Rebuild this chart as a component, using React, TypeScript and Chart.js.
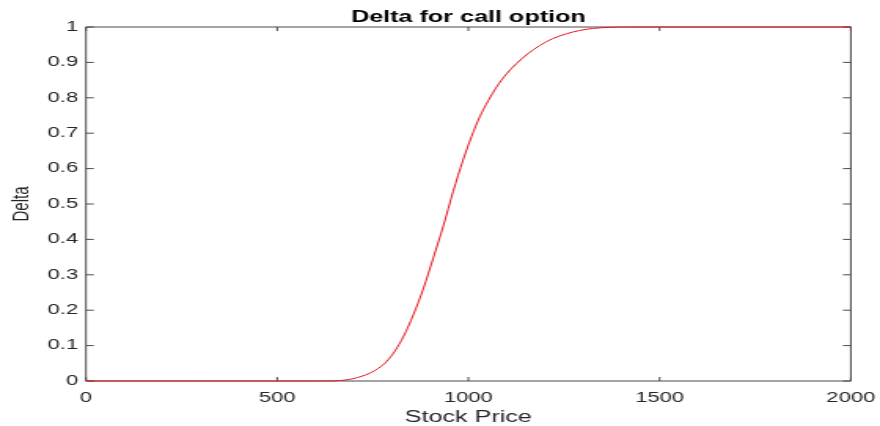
import React, { useEffect, useRef } from "react";
import { Chart, registerables } from "chart.js";

Chart.register(...registerables);

// ---- data ----
const prices = [0, 300, 600, 650, 680, 700, 720, 742, 765, 786, 808, 830, 856, 882, 908, 935, 960, 986, 1008, 1030, 1052, 1074, 1100, 1126, 1155, 1187, 1220, 1257, 1290, 1326, 1370, 1420, 1600, 2000];
const deltas = [0, 0, 0, 0.0005, 0.003, 0.007, 0.013, 0.022, 0.036, 0.055, 0.085, 0.125, 0.187, 0.26, 0.347, 0.44, 0.535, 0.624, 0.69, 0.747, 0.792, 0.831, 0.868, 0.897, 0.924, 0.948, 0.967, 0.981, 0.99, 0.996, 0.999, 1, 1, 1];
const titleText = "Delta for call option";
const xTitle = "Stock Price";
const yTitle = "Delta";
const xMin = 0, xMax = 2000, xStep = 500;
const yMin = 0, yMax = 1, yStep = 0.1;

// ---- style ----
const FONT = "'Liberation Sans', Arial, Helvetica, sans-serif";
const AXIS_COLOR = "#4a4a4a";
const TEXT_COLOR = "#262626";
const LINE_COLOR = "#e3141c";
const INNER_W = 560; // original figure width, stretched to 880 on the page
const INNER_H = 426;

const boxPlugin = {
  id: "matlabBox",
  beforeDatasetsDraw(chart: any) {
    const { ctx, chartArea, scales } = chart;
    const { left, right, top, bottom } = chartArea;
    const x = scales.x, y = scales.y;
    ctx.save();
    ctx.strokeStyle = AXIS_COLOR;
    ctx.lineWidth = 1;
    ctx.beginPath();
    ctx.rect(left, top, right - left, bottom - top);
    x.ticks.forEach((t: any) => {
      const px = x.getPixelForValue(t.value);
      ctx.moveTo(px, bottom);
      ctx.lineTo(px, bottom - 4);
      ctx.moveTo(px, top);
      ctx.lineTo(px, top + 4);
    });
    y.ticks.forEach((t: any) => {
      const py = y.getPixelForValue(t.value);
      ctx.moveTo(left, py);
      ctx.lineTo(left + 5, py);
      ctx.moveTo(right, py);
      ctx.lineTo(right - 5, py);
    });
    ctx.stroke();
    ctx.restore();
  },
};

export default function App() {
  const ref = useRef<HTMLCanvasElement | null>(null);
  useEffect(() => {
    if (!ref.current) return;
    const chart = new Chart(ref.current, {
      type: "line",
      data: {
        datasets: [
          {
            data: prices.map((p, i) => ({ x: p, y: deltas[i] })),
            borderColor: LINE_COLOR,
            borderWidth: 1,
            pointRadius: 0,
            cubicInterpolationMode: "monotone",
            fill: false,
            clip: false as any,
          },
        ],
      },
      options: {
        responsive: false,
        animation: false,
        devicePixelRatio: 1,
        layout: { padding: { left: 0, right: 18.4, top: 0, bottom: 0 } },
        plugins: {
          legend: { display: false },
          tooltip: { enabled: false },
          title: {
            display: true,
            text: titleText,
            fullSize: false,
            color: "#000",
            font: { family: FONT, size: 16, weight: "bold" },
            padding: { top: 7.5, bottom: 0.3 },
          },
        },
        scales: {
          x: {
            type: "linear",
            min: xMin,
            max: xMax,
            grid: { display: false, drawTicks: true, tickLength: 6 },
            border: { display: false },
            ticks: {
              stepSize: xStep,
              color: TEXT_COLOR,
              font: { family: FONT, size: 14 },
              padding: 3,
              maxRotation: 0,
              callback: (v: any) => String(v),
            },
            title: {
              display: true,
              text: xTitle,
              color: TEXT_COLOR,
              font: { family: FONT, size: 16 },
              padding: { top: 0, bottom: -1 },
            },
            afterFit: (s: any) => {
              s.height = 45;
            },
          },
          y: {
            type: "linear",
            min: yMin,
            max: yMax,
            grid: { display: false, drawTicks: false },
            border: { display: false },
            ticks: {
              stepSize: yStep,
              color: TEXT_COLOR,
              font: { family: FONT, size: 14 },
              padding: 5,
              callback: (v: any) => String(Math.round(Number(v) * 10) / 10),
            },
            title: {
              display: true,
              text: yTitle,
              color: TEXT_COLOR,
              font: { family: FONT, size: 15 },
              padding: { top: 5, bottom: 0 },
            },
            afterFit: (s: any) => {
              s.width = 54.7;
            },
          },
        },
      },
      plugins: [boxPlugin],
    });
    return () => chart.destroy();
  }, []);

  return (
    <div style={{ position: "fixed", left: 0, top: 0, width: 880, height: 426, background: "#fff" }}>
      <canvas ref={ref} width={INNER_W} height={INNER_H} style={{ width: 880, height: 426, display: "block" }} />
    </div>
  );
}
